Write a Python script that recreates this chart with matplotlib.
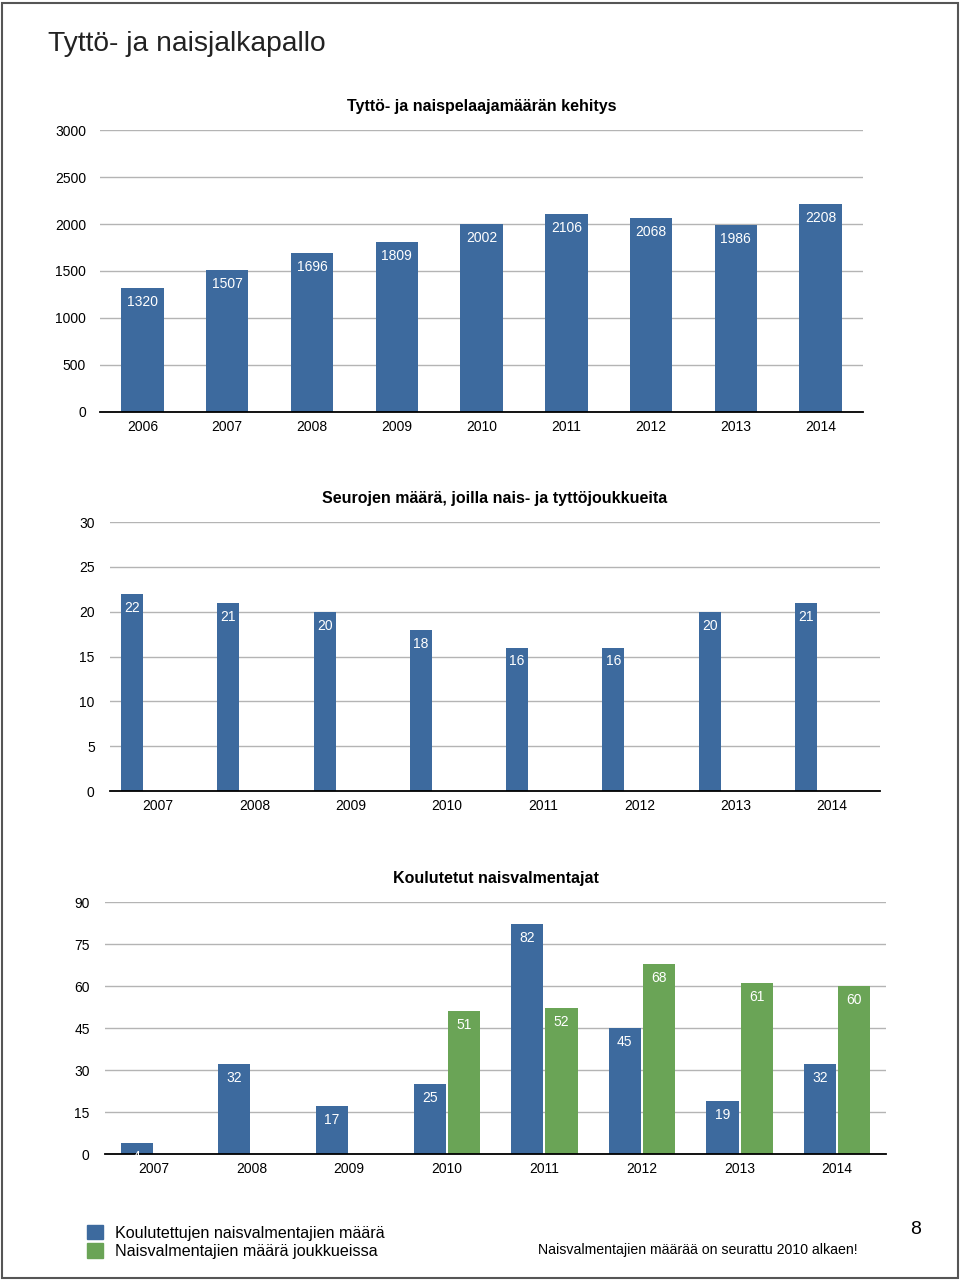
import numpy as np
import matplotlib.pyplot as plt
from matplotlib.patches import Rectangle, Patch

plt.rcParams['font.family'] = ['Liberation Sans', 'DejaVu Sans']

# Data
years_players = ['2006', '2007', '2008', '2009', '2010', '2011', '2012', '2013', '2014']
players = [1320, 1507, 1696, 1809, 2002, 2106, 2068, 1986, 2208]

years_clubs = ['2007', '2008', '2009', '2010', '2011', '2012', '2013', '2014']
clubs = [22, 21, 20, 18, 16, 16, 20, 21]

years_coaches = ['2007', '2008', '2009', '2010', '2011', '2012', '2013', '2014']
coaches_trained = [4, 32, 17, 25, 82, 45, 19, 32]
coaches_in_teams = [np.nan, np.nan, np.nan, 51, 52, 68, 61, 60]

legend_labels = ['Koulutettujen naisvalmentajien määrä', 'Naisvalmentajien määrä joukkueissa']

blue = '#3d6a9e'
green = '#6aa456'
gridcol = '#b4b4b4'


def style_axis(ax, yticks, title, ypad):
    ax.set_ylim(yticks[0], yticks[-1])
    ax.set_yticks(yticks)
    ax.tick_params(length=0, labelsize=10)
    ax.tick_params(axis='y', pad=ypad)
    ax.tick_params(axis='x', pad=6)
    for s in ['top', 'right', 'left']:
        ax.spines[s].set_visible(False)
    ax.spines['bottom'].set_linewidth(1.3)
    ax.spines['bottom'].set_color('black')
    ax.yaxis.grid(True, color=gridcol, linewidth=1)
    ax.set_axisbelow(True)
    ax.set_title(title, fontsize=11.5, fontweight='bold', pad=14)


def label_bars(ax, xs, vals):
    for x, v in zip(xs, vals):
        if np.isnan(v):
            continue
        ax.annotate(str(int(v)), (x, v), xytext=(0, -5), textcoords='offset points',
                    ha='center', va='top', color='white', fontsize=10)


fig = plt.figure(figsize=(9.6, 12.81), dpi=100)

# Chart 1: players
ax1 = fig.add_axes([0.1042, 0.6784, 0.7948, 0.2201])
x1 = np.arange(len(years_players))
ax1.bar(x1, players, width=0.5, color=blue, zorder=2)
ax1.set_xlim(-0.5, len(x1) - 0.5)
ax1.set_xticks(x1)
ax1.set_xticklabels(years_players)
style_axis(ax1, [0, 500, 1000, 1500, 2000, 2500, 3000], 'Tyttö- ja naispelaajamäärän kehitys', 10)
label_bars(ax1, x1, players)

# Chart 2: clubs
ax2 = fig.add_axes([0.1146, 0.3825, 0.8021, 0.2100])
x2 = np.arange(len(years_clubs))
ax2.bar(x2 - 0.27, clubs, width=0.23, color=blue, zorder=2)
ax2.set_xlim(-0.5, len(x2) - 0.5)
ax2.set_xticks(x2)
ax2.set_xticklabels(years_clubs)
style_axis(ax2, [0, 5, 10, 15, 20, 25, 30], 'Seurojen määrä, joilla nais- ja tyttöjoukkueita', 11)
label_bars(ax2, x2 - 0.27, clubs)

# Chart 3: coaches
ax3 = fig.add_axes([0.1094, 0.0991, 0.8135, 0.1967])
x3 = np.arange(len(years_coaches))
ax3.bar(x3 - 0.175, coaches_trained, width=0.33, color=blue, zorder=2)
ax3.bar(x3 + 0.175, coaches_in_teams, width=0.33, color=green, zorder=2)
ax3.set_xlim(-0.5, len(x3) - 0.5)
ax3.set_xticks(x3)
ax3.set_xticklabels(years_coaches)
style_axis(ax3, [0, 15, 30, 45, 60, 75, 90], 'Koulutetut naisvalmentajat', 11)
label_bars(ax3, x3 - 0.175, np.array(coaches_trained, dtype=float))
label_bars(ax3, x3 + 0.175, np.array(coaches_in_teams, dtype=float))

fig.legend([Patch(color=blue), Patch(color=green)], legend_labels,
           loc='upper left', bbox_to_anchor=(0.091, 1 - 1225 / 1281),
           frameon=False, fontsize=11.6, handlelength=1.0, handleheight=1.0,
           handletextpad=0.7, labelspacing=0.15, borderaxespad=0, borderpad=0)

# Page texts
fig.text(48 / 960, 1 - 44 / 1281, 'Tyttö- ja naisjalkapallo', fontsize=20.3,
         ha='left', va='center', color='#222222')
fig.text(698 / 960, 1 - 1250 / 1281, 'Naisvalmentajien määrää on seurattu 2010 alkaen!',
         fontsize=10.2, ha='center', va='center')
fig.text(916 / 960, 1 - 1229 / 1281, '8', fontsize=14, ha='center', va='center')

fig.patches.append(Rectangle((0.002, 0.002), 0.996, 0.996, transform=fig.transFigure,
                             fill=False, edgecolor='#555555', linewidth=1.5))

plt.savefig('out.png', dpi=100)
